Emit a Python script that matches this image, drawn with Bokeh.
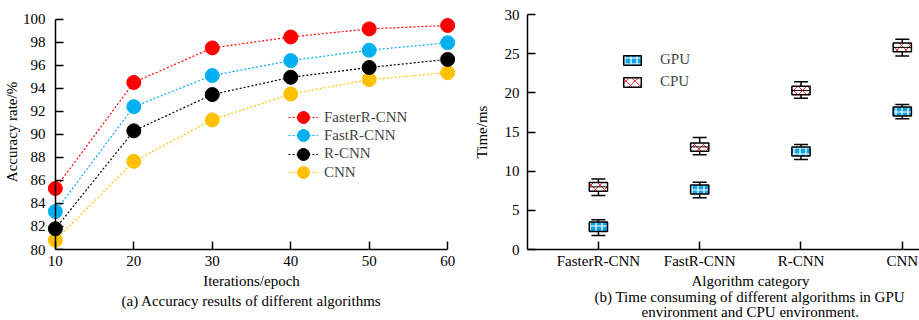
from bokeh.plotting import figure
from bokeh.models import Range1d, FixedTicker, Legend, LegendItem, Title, LinearAxis
from bokeh.layouts import row
from bokeh.embed import file_html
from bokeh.resources import INLINE

FONT = "Liberation Serif"

# ---- data: (a) accuracy ----
iterations = [10, 20, 30, 40, 50, 60]
acc_faster_rcnn = [85.3, 94.5, 97.5, 98.45, 99.15, 99.45]
acc_fast_rcnn = [83.3, 92.4, 95.1, 96.4, 97.3, 97.95]
acc_rcnn = [81.8, 90.3, 93.45, 94.95, 95.8, 96.5]
acc_cnn = [80.8, 87.65, 91.25, 93.5, 94.75, 95.35]
series_names = ["FasterR-CNN", "FastR-CNN", "R-CNN", "CNN"]
series_colors = ["#FF0000", "#00B0F0", "#000000", "#FFC000"]
acc_y_ticks = [80, 82, 84, 86, 88, 90, 92, 94, 96, 98, 100]
acc_x_ticks = [10, 20, 30, 40, 50, 60]

# ---- data: (b) time consumption ----
categories = ["FasterR-CNN", "FastR-CNN", "R-CNN", "CNN"]
cat_pos = [1, 2, 3, 4]
cpu_lo = [6.9, 12.1, 19.3, 24.7]
cpu_q1 = [7.45, 12.55, 19.75, 25.25]
cpu_med = [8.0, 13.1, 20.3, 25.8]
cpu_q3 = [8.55, 13.6, 20.85, 26.35]
cpu_hi = [9.0, 14.3, 21.4, 26.85]
gpu_lo = [1.8, 6.6, 11.5, 16.7]
gpu_q1 = [2.3, 7.1, 11.95, 17.05]
gpu_med = [2.9, 7.7, 12.5, 17.6]
gpu_q3 = [3.5, 8.25, 13.1, 18.2]
gpu_hi = [3.8, 8.6, 13.4, 18.5]
time_y_ticks = [0, 5, 10, 15, 20, 25, 30]


def style_axis(ax, tick_size="15px"):
    ax.axis_line_color = "black"
    ax.axis_line_width = 1.5
    ax.major_tick_line_color = "black"
    ax.major_tick_line_width = 1.5
    ax.major_tick_in = 8
    ax.major_tick_out = 0
    ax.minor_tick_in = 0
    ax.minor_tick_out = 0
    ax.major_label_text_font = FONT
    ax.major_label_text_font_size = tick_size
    ax.major_label_text_color = "black"
    ax.axis_label_text_font = FONT
    ax.axis_label_text_font_size = "15px"
    ax.axis_label_text_font_style = "normal"
    ax.axis_label_text_color = "black"


def caption(text, standoff, align="center", offset=0):
    return Title(text=text, align=align, offset=offset, standoff=standoff,
                 text_font=FONT, text_font_size="15px", text_font_style="normal",
                 text_color="black")


# ================= (a) =================
p1 = figure(width=460, height=320, x_range=Range1d(9, 61), y_range=Range1d(80, 100.4),
            output_backend="svg", toolbar_location=None,
            min_border_left=47, min_border_right=5, min_border_top=10, min_border_bottom=69)
p1.outline_line_color = None
p1.xgrid.visible = False
p1.ygrid.visible = False

xa = p1.xaxis[0]
style_axis(xa, "15px")
xa.ticker = FixedTicker(ticks=acc_x_ticks)
xa.bounds = (10, 60)
xa.axis_label = "Iterations/epoch"
xa.major_label_standoff = 6
xa.axis_label_standoff = 4

# labels-only axis in the side panel
ya = p1.yaxis[0]
style_axis(ya, "15px")
ya.ticker = FixedTicker(ticks=acc_y_ticks)
ya.axis_line_color = None
ya.major_tick_line_color = None
ya.axis_label = "Accuracy rate/%"
ya.major_label_standoff = 2
ya.axis_label_standoff = 0

# line + inward ticks placed at x = 10
ya2 = LinearAxis(fixed_location=10, ticker=FixedTicker(ticks=acc_y_ticks), bounds=(80, 100),
                 major_label_overrides={t: "" for t in acc_y_ticks})
style_axis(ya2)
p1.add_layout(ya2, "left")

series_vals = [acc_faster_rcnn, acc_fast_rcnn, acc_rcnn, acc_cnn]
line_rs = []
for vals, col in zip(series_vals, series_colors):
    line_rs.append(p1.line(iterations, vals, line_color=col, line_dash="2 2", line_width=1.2))
circ_rs = []
for vals, col in zip(series_vals[::-1], series_colors[::-1]):
    circ_rs.append(p1.scatter(iterations, vals, marker="circle", size=14,
                              fill_color=col, line_color=col))
circ_rs = circ_rs[::-1]

legend_bottoms = [114.7, 96.6, 78.5, 60.0]
for n, l, c, yb_ in zip(series_names, line_rs, circ_rs, legend_bottoms):
    lg = Legend(items=[LegendItem(label=n, renderers=[l, c])],
                location=(241, yb_), glyph_width=30, glyph_height=34, label_height=34,
                spacing=0, padding=0, margin=0, label_standoff=6, label_text_font=FONT,
                label_text_font_size="15px", border_line_color=None, background_fill_alpha=0)
    p1.add_layout(lg)

p1.add_layout(caption("(a) Accuracy results of different algorithms", -2), "below")

# ================= (b) =================
p2 = figure(width=459, height=320, x_range=Range1d(0.3, 4.17), y_range=Range1d(0, 30),
            output_backend="svg", toolbar_location=None,
            min_border_left=67, min_border_right=0, min_border_top=14, min_border_bottom=71)
p2.outline_line_color = None
p2.xgrid.visible = False
p2.ygrid.visible = False

xb = p2.xaxis[0]
style_axis(xb, "15px")
xb.ticker = FixedTicker(ticks=cat_pos)
xb.major_label_overrides = {pos: name for pos, name in zip(cat_pos, categories)}
xb.major_label_standoff = 3

yb = p2.yaxis[0]
style_axis(yb, "15px")
yb.ticker = FixedTicker(ticks=time_y_ticks)
yb.axis_label = "Time/ms"
yb.major_label_standoff = 8
yb.axis_label_standoff = 12

BOX_W = 0.18
GPU_BLUE = "#14A3E6"

# whiskers
p2.segment(x0=cat_pos, y0=cpu_lo, x1=cat_pos, y1=cpu_hi, line_color="black", line_width=1.5)
p2.segment(x0=cat_pos, y0=gpu_lo, x1=cat_pos, y1=gpu_hi, line_color="black", line_width=1.5)
for arr in (cpu_lo, cpu_hi, gpu_lo, gpu_hi):
    p2.scatter(cat_pos, arr, marker="dash", size=14, line_color="black", line_width=1.5)

gpu_box = p2.vbar(x=cat_pos, bottom=gpu_q1, top=gpu_q3, width=BOX_W,
                  fill_color=GPU_BLUE, line_color="black", line_width=1.5,
                  hatch_pattern="+", hatch_color="white", hatch_scale=6, hatch_weight=1.2)
cpu_box = p2.vbar(x=cat_pos, bottom=cpu_q1, top=cpu_q3, width=BOX_W,
                  fill_color="white", line_color="black", line_width=1.5,
                  hatch_pattern="x", hatch_color="#FF3030", hatch_scale=9, hatch_weight=1)
p2.scatter(cat_pos, cpu_med, marker="dash", size=18, line_color="black", line_width=1)

legend2 = Legend(
    items=[LegendItem(label="GPU", renderers=[gpu_box]), LegendItem(label="CPU", renderers=[cpu_box])],
    location=(94, 159), glyph_width=22, glyph_height=12, label_height=12, spacing=5,
    padding=0, margin=0, label_standoff=17, label_text_font=FONT, label_text_font_size="15px",
    border_line_color=None, background_fill_alpha=0)
p2.add_layout(legend2)

p2.add_layout(caption("Algorithm category", -1, "left", 164), "below")
p2.add_layout(caption("(b) Time consuming of different algorithms in GPU", -3, "left", 67), "below")
p2.add_layout(caption("environment and CPU environment.", -3, "left", 114), "below")

layout = row(p1, p2)
open("out.html", "w").write(file_html(layout, INLINE))
